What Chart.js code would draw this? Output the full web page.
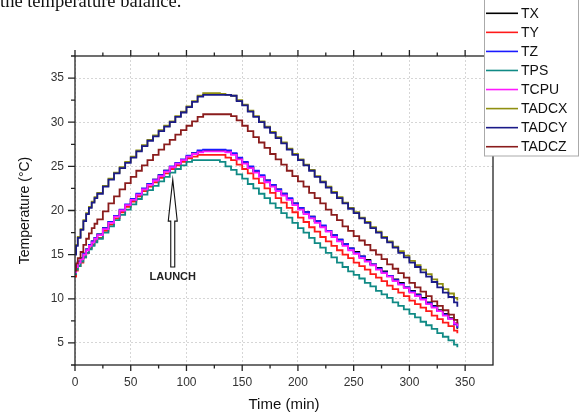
<!DOCTYPE html>
<html>
<head>
<meta charset="utf-8">
<script src="https://cdn.jsdelivr.net/npm/chart.js@4.4.0/dist/chart.umd.min.js"></script>
<style>
  body { margin: 0; background: #fff; }
  .wrap { position: relative; width: 584px; height: 414px; overflow: hidden; background: #fff; }
  canvas { position: absolute; left: 0; top: 0; }
  .caption { position: absolute; left: 0; top: -9px; font: 18.5px "Liberation Serif", "Times New Roman", serif; color: #111; white-space: nowrap; }
</style>
</head>
<body>
<div class="wrap">
  <canvas id="myChart" width="584" height="414"></canvas>
  <div class="caption">the temperature balance.</div>
</div>
<script>
// time in minutes
const times = [0, 1, 2.5,
  5, 7.5, 10, 12.5, 15, 17.5,
  20, 25, 30, 35, 40, 45, 50,
  55, 60, 65, 70, 75, 80, 85, 90, 95, 100,
  105, 110, 115, 120, 125, 130, 135, 140, 145, 150,
  155, 160, 165, 170, 175, 180, 185, 190, 195, 200,
  205, 210, 215, 220, 225, 230, 235, 240, 245, 250,
  255, 260, 265, 270, 275, 280, 285, 290, 295, 300,
  305, 310, 315, 320, 325, 330, 335, 340,
  343];

const tx = [13.1, 13.7, 14.2,
  14.6, 15.1, 15.6, 16.1, 16.5, 16.9,
  17.3, 18.0, 18.7, 19.4, 20.0, 20.6, 21.2,
  21.8, 22.4, 23.0, 23.5, 24.0, 24.5, 24.9, 25.3, 25.7, 26.1,
  26.5, 26.7, 26.8, 26.8, 26.8, 26.8, 26.7, 26.4, 25.9, 25.4,
  24.9, 24.4, 23.9, 23.4, 22.9, 22.4, 21.9, 21.3, 20.8, 20.3,
  19.8, 19.3, 18.8, 18.2, 17.7, 17.2, 16.7, 16.2, 15.7, 15.3,
  14.8, 14.4, 13.9, 13.5, 13.1, 12.6, 12.2, 11.8, 11.3, 10.9,
  10.5, 10.1, 9.6, 9.2, 8.7, 8.3, 7.8, 7.2,
  6.6];

const ty = [12.5, 13.2, 13.7,
  14.1, 14.7, 15.2, 15.7, 16.1, 16.5,
  16.9, 17.7, 18.4, 19.1, 19.8, 20.4, 21.0,
  21.6, 22.2, 22.7, 23.2, 23.7, 24.2, 24.7, 25.1, 25.5, 25.9,
  26.1, 26.3, 26.3, 26.3, 26.3, 26.3, 26.0, 25.7, 25.2, 24.7,
  24.2, 23.6, 23.1, 22.5, 22.0, 21.4, 20.9, 20.3, 19.8, 19.2,
  18.7, 18.1, 17.6, 17.0, 16.5, 16.0, 15.5, 15.0, 14.6, 14.1,
  13.7, 13.3, 12.8, 12.4, 12.0, 11.5, 11.1, 10.7, 10.3, 9.8,
  9.4, 9.0, 8.6, 8.1, 7.7, 7.3, 6.9, 6.4,
  6.1];

const tz = [13.2, 13.8, 14.2,
  14.6, 15.1, 15.6, 16.1, 16.5, 16.9,
  17.3, 18.0, 18.7, 19.4, 20.1, 20.7, 21.3,
  21.9, 22.5, 23.0, 23.5, 24.0, 24.5, 25.0, 25.4, 25.8, 26.2,
  26.5, 26.8, 26.9, 26.9, 26.9, 26.9, 26.8, 26.5, 26.0, 25.5,
  25.0, 24.5, 24.0, 23.4, 22.9, 22.4, 21.9, 21.4, 20.8, 20.3,
  19.8, 19.3, 18.8, 18.3, 17.7, 17.2, 16.7, 16.2, 15.7, 15.2,
  14.8, 14.3, 13.9, 13.4, 13.0, 12.6, 12.1, 11.7, 11.3, 10.8,
  10.4, 10.0, 9.5, 9.1, 8.6, 8.2, 7.7, 7.1,
  6.7];

const tps = [12.8, 13.3, 13.7,
  14.2, 14.7, 15.2, 15.6, 16.0, 16.4,
  16.8, 17.5, 18.2, 18.9, 19.5, 20.1, 20.7,
  21.3, 21.8, 22.3, 22.8, 23.3, 23.8, 24.3, 24.7, 25.1, 25.5,
  25.7, 25.7, 25.7, 25.7, 25.7, 25.5, 25.0, 24.6, 24.1, 23.6,
  23.0, 22.5, 21.9, 21.4, 20.8, 20.3, 19.7, 19.2, 18.6, 18.0,
  17.5, 16.9, 16.3, 15.8, 15.2, 14.7, 14.1, 13.6, 13.1, 12.7,
  12.3, 11.8, 11.4, 10.9, 10.5, 10.1, 9.6, 9.2, 8.8, 8.3,
  7.9, 7.4, 7.0, 6.6, 6.1, 5.7, 5.3, 4.8,
  4.5];

const tcpu = [13.0, 13.6, 14.1,
  14.5, 15.0, 15.5, 16.0, 16.4, 16.8,
  17.2, 17.9, 18.6, 19.3, 20.0, 20.6, 21.2,
  21.8, 22.4, 22.9, 23.4, 23.9, 24.4, 24.9, 25.3, 25.7, 26.1,
  26.4, 26.6, 26.7, 26.7, 26.7, 26.7, 26.6, 26.3, 25.8, 25.3,
  24.8, 24.3, 23.8, 23.2, 22.7, 22.2, 21.7, 21.2, 20.6, 20.1,
  19.6, 19.1, 18.6, 18.1, 17.6, 17.0, 16.5, 16.0, 15.5, 15.1,
  14.6, 14.2, 13.8, 13.3, 12.9, 12.5, 12.0, 11.6, 11.2, 10.7,
  10.3, 9.9, 9.4, 9.0, 8.6, 8.1, 7.7, 7.2,
  6.9];

const tadcx = [15.1, 16.1, 17.0,
  17.9, 18.9, 19.7, 20.4, 21.0, 21.5,
  22.0, 22.8, 23.6, 24.3, 24.9, 25.5, 26.1,
  26.8, 27.4, 28.0, 28.5, 29.1, 29.6, 30.1, 30.7, 31.2, 31.8,
  32.4, 33.0, 33.3, 33.3, 33.3, 33.2, 33.1, 33.0, 32.5, 32.0,
  31.3, 30.7, 30.1, 29.5, 28.9, 28.3, 27.7, 27.0, 26.4, 25.8,
  25.2, 24.6, 23.9, 23.3, 22.7, 22.1, 21.5, 20.9, 20.3, 19.8,
  19.2, 18.7, 18.1, 17.6, 17.0, 16.5, 15.9, 15.4, 14.9, 14.3,
  13.8, 13.3, 12.8, 12.2, 11.7, 11.1, 10.6, 10.1,
  9.8];

const tadcy = [15.0, 16.0, 16.9,
  17.8, 18.8, 19.6, 20.3, 20.9, 21.4,
  21.9, 22.7, 23.5, 24.2, 24.8, 25.4, 26.0,
  26.7, 27.3, 27.9, 28.4, 29.0, 29.5, 30.0, 30.6, 31.1, 31.7,
  32.3, 32.9, 33.1, 33.1, 33.1, 33.1, 33.1, 33.0, 32.4, 31.9,
  31.2, 30.6, 30.0, 29.4, 28.8, 28.2, 27.6, 26.9, 26.3, 25.7,
  25.1, 24.5, 23.8, 23.2, 22.6, 22.0, 21.4, 20.8, 20.2, 19.7,
  19.1, 18.6, 18.0, 17.5, 16.9, 16.4, 15.8, 15.2, 14.7, 14.1,
  13.6, 13.0, 12.5, 11.9, 11.3, 10.7, 10.2, 9.6,
  9.1];

const tadcz = [13.2, 14.0, 14.6,
  15.3, 16.1, 16.8, 17.4, 18.0, 18.5,
  19.0, 19.9, 20.8, 21.6, 22.4, 23.1, 23.8,
  24.5, 25.1, 25.7, 26.3, 26.9, 27.5, 28.0, 28.6, 29.1, 29.6,
  30.1, 30.6, 30.9, 30.9, 30.9, 30.9, 30.9, 30.7, 30.2, 29.6,
  29.0, 28.3, 27.7, 27.1, 26.4, 25.8, 25.2, 24.5, 23.9, 23.3,
  22.7, 22.0, 21.4, 20.8, 20.1, 19.5, 18.9, 18.2, 17.7, 17.1,
  16.6, 16.1, 15.5, 15.0, 14.5, 13.9, 13.4, 12.9, 12.4, 11.8,
  11.3, 10.8, 10.3, 9.7, 9.2, 8.7, 8.2, 7.6,
  7.2];

const seriesNames = ['TX', 'TY', 'TZ', 'TPS', 'TCPU', 'TADCX', 'TADCY', 'TADCZ'];
const seriesValues = [tx, ty, tz, tps, tcpu, tadcx, tadcy, tadcz];
const seriesColors = ['#000000', '#ff1a1a', '#1a1aff', '#108a85', '#ff1aff', '#8f8f10', '#1a1a88', '#8a1c1c'];

const xTicks = [0, 50, 100, 150, 200, 250, 300, 350];
const yTicks = [5, 10, 15, 20, 25, 30, 35];

// LAUNCH marker (data units)
const launchTime = 87.7;
const arrowTip = 23.5, arrowHeadBase = 18.8, arrowBottom = 13.6, launchLabelY = 12.45;

Chart.defaults.font.family = 'Arial, "Liberation Sans", sans-serif';

let datasets = seriesNames.map(function (name, i) {
    return {
        label: name,
        data: times.map((t, k) => ({x: t, y: seriesValues[i][k]})),
        borderColor: seriesColors[i],
        backgroundColor: seriesColors[i],
        borderWidth: 1.8,
        pointRadius: 0,
        stepped: true,
        fill: false,
        order: seriesNames.length - i
    };
});

const axisFrame = {
    id: 'axisFrame',
    afterDatasetsDraw(chart) {
        const {ctx, chartArea: a, scales: {x, y}} = chart;
        ctx.save();
        ctx.strokeStyle = '#222';
        ctx.lineWidth = 1.3;
        ctx.strokeRect(a.left, a.top, a.right - a.left, a.bottom - a.top);
        ctx.beginPath();
        for (let v = 0; v <= 350; v += 25) {
            let px = x.getPixelForValue(v);
            let len = v % 50 === 0 ? 6 : 3.5;
            ctx.moveTo(px, a.bottom); ctx.lineTo(px, a.bottom + len);
            ctx.moveTo(px, a.top); ctx.lineTo(px, a.top - len);
        }
        for (let v = 2.5; v <= 37.5; v += 2.5) {
            let py = y.getPixelForValue(v);
            let len = v % 5 === 0 ? 7 : 4;
            ctx.moveTo(a.left, py); ctx.lineTo(a.left - len, py);
        }
        ctx.stroke();

        // launch arrow
        let ax = x.getPixelForValue(launchTime);
        let tip = y.getPixelForValue(arrowTip);
        let head = y.getPixelForValue(arrowHeadBase);
        let bot = y.getPixelForValue(arrowBottom);
        ctx.beginPath();
        ctx.moveTo(ax, tip);
        ctx.lineTo(ax + 4.5, head);
        ctx.lineTo(ax + 2, head);
        ctx.lineTo(ax + 2, bot);
        ctx.lineTo(ax - 2, bot);
        ctx.lineTo(ax - 2, head);
        ctx.lineTo(ax - 4.5, head);
        ctx.closePath();
        ctx.fillStyle = '#fff';
        ctx.fill();
        ctx.strokeStyle = '#111';
        ctx.lineWidth = 1.1;
        ctx.stroke();
        ctx.fillStyle = '#222';
        ctx.font = 'bold 11px Arial, "Liberation Sans", sans-serif';
        ctx.textAlign = 'center';
        ctx.textBaseline = 'middle';
        ctx.fillText('LAUNCH', ax, y.getPixelForValue(launchLabelY));
        ctx.restore();
    }
};

const boxLegend = {
    id: 'boxLegend',
    afterDraw(chart) {
        const ctx = chart.ctx;
        ctx.save();
        ctx.fillStyle = '#fff';
        ctx.fillRect(484, -1, 94, 157);
        ctx.strokeStyle = '#aaa';
        ctx.lineWidth = 1;
        ctx.strokeRect(484.5, -1, 94, 157);
        ctx.font = '14px Arial, "Liberation Sans", sans-serif';
        ctx.textBaseline = 'middle';
        ctx.textAlign = 'left';
        seriesNames.forEach(function (name, i) {
            let ly = 13.3 + i * 19.06;
            ctx.strokeStyle = seriesColors[i];
            ctx.lineWidth = 1.6;
            ctx.beginPath();
            ctx.moveTo(486, ly);
            ctx.lineTo(518, ly);
            ctx.stroke();
            ctx.fillStyle = '#111';
            ctx.fillText(name, 521, ly + 0.5);
        });
        ctx.restore();
    }
};

const ctx = document.getElementById('myChart');
let tempChart = new Chart(ctx, {
    type: 'line',
    data: {datasets: datasets},
    options: {
        responsive: false,
        animation: false,
        layout: {padding: {top: 56, right: 91, left: 0, bottom: 0}},
        plugins: {
            legend: {display: false},
            tooltip: {enabled: false}
        },
        scales: {
            x: {
                type: 'linear',
                min: 0,
                max: 375,
                afterBuildTicks: function (s) { s.ticks = xTicks.map(v => ({value: v})); },
                afterFit: function (s) { s.height = 49; },
                ticks: {color: '#333', font: {size: 12}, padding: 10, maxRotation: 0, autoSkip: false},
                grid: {color: '#d6d6d6', lineWidth: 1, drawTicks: false},
                border: {display: false, dash: [2, 2]},
                title: {display: true, text: 'Time (min)', color: '#111', font: {size: 15}, padding: {top: 0, bottom: 0}}
            },
            y: {
                type: 'linear',
                min: 2.5,
                max: 37.5,
                afterBuildTicks: function (s) { s.ticks = yTicks.map(v => ({value: v})); },
                afterFit: function (s) { s.width = 75; },
                ticks: {color: '#333', font: {size: 12}, padding: 11},
                grid: {color: '#d6d6d6', lineWidth: 1, drawTicks: false},
                border: {display: false, dash: [2, 2]},
                title: {display: true, text: 'Temperature (°C)', color: '#111', font: {size: 14}, padding: {top: 16.6, bottom: 0}}
            }
        }
    },
    plugins: [axisFrame, boxLegend]
});
</script>
</body>
</html>
